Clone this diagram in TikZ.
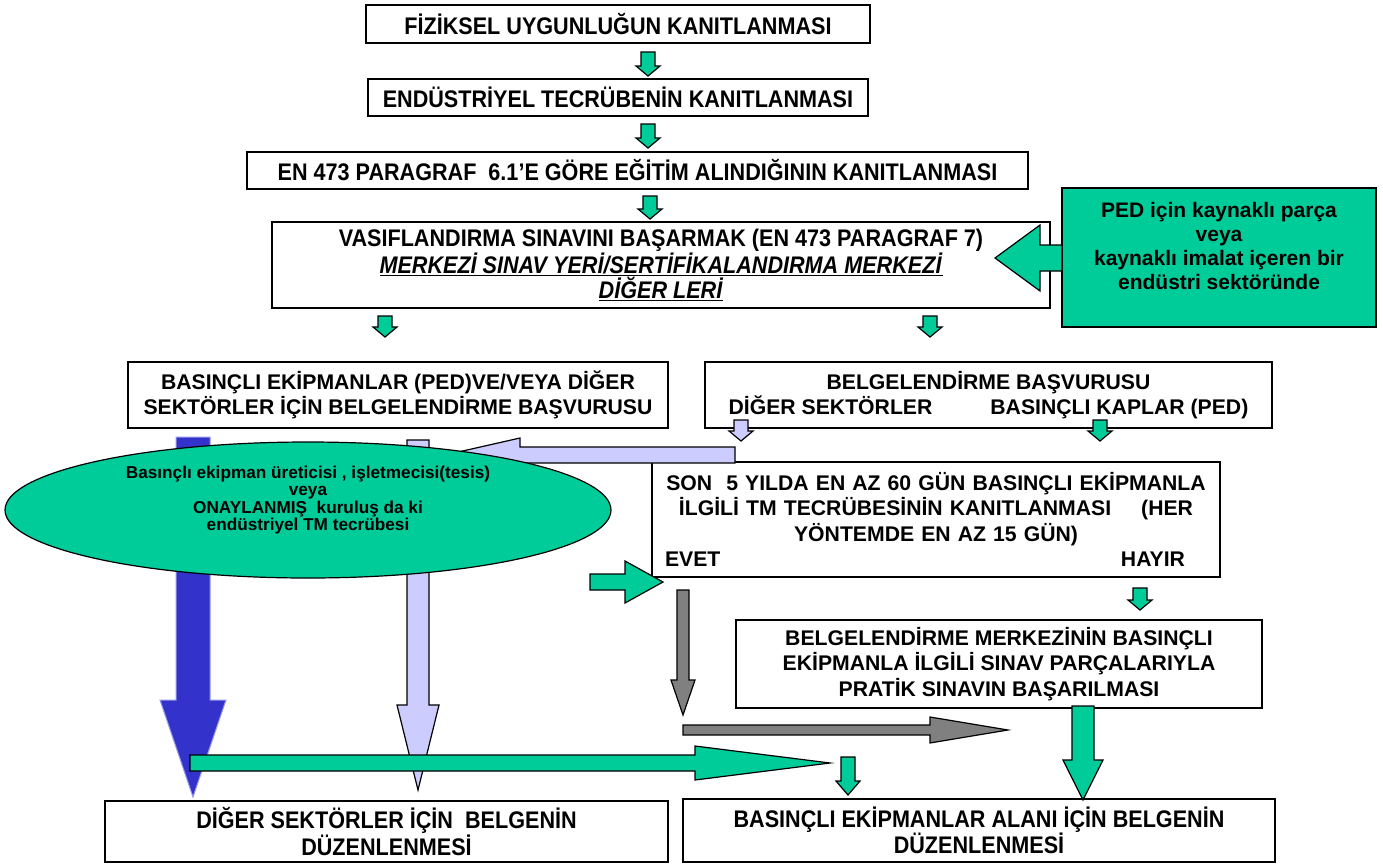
\documentclass[tikz,border=0pt]{standalone}
\usepackage{fontspec}
\setmainfont{Liberation Sans}
\newfontfamily\narrowfam[FakeStretch=0.9]{Liberation Sans}
\usetikzlibrary{calc,shapes.geometric}

\definecolor{pedgreen}{HTML}{00CC99}
\definecolor{lavender}{HTML}{CCCCFF}
\definecolor{deepblue}{HTML}{3333CC}
\definecolor{arrowgray}{HTML}{808080}

\newcommand\regtext{\bfseries\fontsize{21.2}{25.5}\selectfont}
\newcommand\narrowtext{\narrowfam\bfseries\fontsize{24}{25.5}\selectfont}

\tikzset{
  textbox/.style={draw=black, fill=white, line width=1.5pt, inner sep=0pt, align=center, font=\regtext},
  narrowbox/.style={textbox, font=\narrowtext},
  greenfill/.style={fill=pedgreen, draw=black, line width=1.2pt},
  lavfill/.style={fill=lavender, draw=black, line width=1.2pt},
  bluefill/.style={fill=deepblue, draw=deepblue!50, line width=1pt},
  grayfill/.style={fill=arrowgray, draw=black, line width=1.2pt}
}

% block arrow: style, tail, tip, shaft half width, head half width, head length
\newcommand\blockarrow[6]{%
  \path[#1] let \p1=($(#3)-(#2)$), \n1={veclen(\x1,\y1)}, \n2={atan2(\y1,\x1)} in
    [shift={(#2)}, rotate=\n2]
    (0pt,-#4pt) -- (\n1-#6pt,-#4pt) -- (\n1-#6pt,-#5pt) -- (\n1,0pt)
    -- (\n1-#6pt,#5pt) -- (\n1-#6pt,#4pt) -- (0pt,#4pt) -- cycle;
}

\begin{document}
\begin{tikzpicture}[x=1pt, y=-1pt]
  \useasboundingbox (0,0) rectangle (1383,865);

  % boxes, top to bottom
  \node (fiz) [narrowbox, minimum width=504, minimum height=38] at (618,24) {FİZİKSEL UYGUNLUĞUN KANITLANMASI};
  \node (endu) [narrowbox, minimum width=500, minimum height=37] at (618,97.5) {ENDÜSTRİYEL TECRÜBENİN KANITLANMASI};
  \node (egitim) [narrowbox, minimum width=781, minimum height=37] at (637.5,170.5) {EN 473 PARAGRAF \ 6.1’E GÖRE EĞİTİM ALINDIĞININ KANITLANMASI};
  \node (sinav) [narrowbox, minimum width=778, minimum height=86] at (661,265) {
    VASIFLANDIRMA SINAVINI BAŞARMAK (EN 473 PARAGRAF 7)\\
    \underline{\textit{MERKEZİ SINAV YERİ/SERTİFİKALANDIRMA MERKEZİ}}\\
    \underline{\textit{DİĞER LERİ}}
  };
  \node (ped) [greenfill, minimum width=314, minimum height=139,
    label={[align=center, font=\bfseries\fontsize{21}{24}\selectfont, yshift=12]center:{PED için kaynaklı parça\\ veya\\ kaynaklı imalat içeren bir\\ endüstri sektöründe}}] at (1219,257.5) {};

  \node (basvL) [textbox, minimum width=540, minimum height=66] at (398,395) {
    BASINÇLI EKİPMANLAR (PED)VE/VEYA DİĞER\\ SEKTÖRLER İÇİN BELGELENDİRME BAŞVURUSU};
  \node (basvR) [textbox, minimum width=567, minimum height=66] at (988.5,395) {
    BELGELENDİRME BAŞVURUSU\\ DİĞER SEKTÖRLER\hspace{58pt}BASINÇLI KAPLAR (PED)};

  \node (son5) [textbox, minimum width=568, minimum height=115, text width=542] at (936,519.5) {
    SON \ 5 YILDA EN AZ 60 GÜN BASINÇLI EKİPMANLA\\
    İLGİLİ TM TECRÜBESİNİN KANITLANMASI\hspace{30pt}(HER\\
    YÖNTEMDE EN AZ 15 GÜN)\\
    EVET\hfill HAYIR\hspace*{22pt}
  };
  \node (pratik) [textbox, minimum width=526, minimum height=88] at (999,664) {
    BELGELENDİRME MERKEZİNİN BASINÇLI\\ EKİPMANLA İLGİLİ SINAV PARÇALARIYLA\\ PRATİK SINAVIN BAŞARILMASI};

  \node (belgeL) [narrowbox, minimum width=563, minimum height=61] at (386.5,831.5) {
    DİĞER SEKTÖRLER İÇİN \ BELGENİN\\ DÜZENLENMESİ};
  \node (belgeR) [narrowbox, minimum width=592, minimum height=63] at (979,830.5) {
    BASINÇLI EKİPMANLAR ALANI İÇİN BELGENİN\\ DÜZENLENMESİ};

  % small step arrows
  \blockarrow{greenfill}{648,52}{648,76}{7}{12}{10}
  \blockarrow{greenfill}{648,124}{648,148}{7}{12}{10}
  \blockarrow{greenfill}{650,196}{650,219}{7}{12}{10}
  \blockarrow{greenfill}{385,316}{385,337}{7}{12}{10}
  \blockarrow{greenfill}{930,316}{930,337}{7}{12}{10}
  \blockarrow{lavfill}{741,420}{741,441}{7}{12}{10}
  \blockarrow{greenfill}{1100,420}{1100,441}{7}{12}{10}
  \blockarrow{greenfill}{1140,588}{1140,610}{7}{12}{10}
  \blockarrow{greenfill}{848,757}{848,795}{7}{12}{14}

  % from the green sector box into the exam box
  \blockarrow{greenfill}{1062,258}{995,258}{13}{33}{45}

  % long arrows on the left
  \blockarrow{bluefill}{193,437}{193,797}{17}{33}{97}
  \blockarrow{lavfill}{418,440}{418,790}{11}{21}{85}
  \blockarrow{lavfill}{735,455}{445,455}{8}{17}{75}

  \node (deney) [ellipse, greenfill, minimum width=606, minimum height=136, inner sep=0pt,
    label={[align=center, font=\bfseries\fontsize{17.2}{17.5}\selectfont, yshift=10]center:{Basınçlı ekipman üreticisi , işletmecisi(tesis)\\ veya\\ ONAYLANMIŞ \ kuruluş da ki\\ endüstriyel TM tecrübesi}}] at (308,510) {};

  \blockarrow{greenfill}{590,582}{663,582}{8}{21}{38}
  \blockarrow{grayfill}{683,590}{683,715}{6}{12}{35}
  \blockarrow{grayfill}{683,730}{1008,730}{5}{13}{78}
  \blockarrow{greenfill}{1083,706}{1083,800}{11}{20}{40}
  \blockarrow{greenfill}{190,763}{830,763}{8}{17}{135}
\end{tikzpicture}
\end{document}
